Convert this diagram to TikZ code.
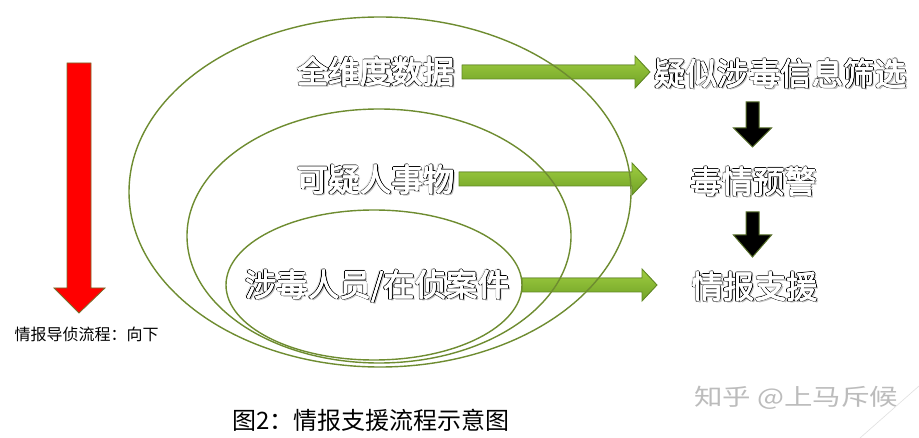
\documentclass[tikz,border=0pt]{standalone}
\usepackage{fontspec}
\setmainfont{Noto Sans CJK SC}
\definecolor{ringgreen}{RGB}{110,140,48}
\definecolor{arrowlight}{RGB}{160,205,65}
\definecolor{arrowdark}{RGB}{112,162,38}
\definecolor{arrowedge}{RGB}{98,138,36}
\definecolor{redfill}{RGB}{255,0,0}
\definecolor{rededge}{RGB}{120,110,45}
\definecolor{blackedge}{RGB}{85,110,40}
\definecolor{markgray}{RGB}{188,188,188}
\newcommand\fxlayer[4]{\rlap{\kern#1\raisebox{#2}{\color{#3}#4}}}
\newcommand\fxtext[1]{%
  \fxlayer{2pt}{-2pt}{black!25}{#1}%
  \fxlayer{-1.4pt}{1.4pt}{black!12}{#1}%
  \fxlayer{0.9pt}{-0.9pt}{black}{#1}%
  \fxlayer{-0.8pt}{0.8pt}{black}{#1}%
  \fxlayer{0.9pt}{0.8pt}{black}{#1}%
  \fxlayer{-0.8pt}{-0.9pt}{black}{#1}%
  \fxlayer{1pt}{0pt}{black}{#1}%
  \fxlayer{-0.9pt}{0pt}{black}{#1}%
  \fxlayer{0pt}{1pt}{black}{#1}%
  \fxlayer{0pt}{-1pt}{black}{#1}%
  \fxlayer{0.3pt}{0pt}{white}{#1}%
  \fxlayer{-0.3pt}{0pt}{white}{#1}%
  \fxlayer{0pt}{0.3pt}{white}{#1}%
  \fxlayer{0pt}{-0.3pt}{white}{#1}%
  {\color{white}#1}}
\newcommand\garrow[2]{%
  \fill[greenarrow] ([shift={(0,-7)}]#1) -- ([shift={(-15,-7)}]#2)
    -- ([shift={(-15,-16)}]#2) -- (#2) -- ([shift={(-15,16)}]#2)
    -- ([shift={(-15,7)}]#2) -- ([shift={(0,7)}]#1) -- cycle;}
\newcommand\barrow[3]{% start, head length, tip
  \fill[blackarrow] ([shift={(-6.5,0)}]#1) -- ([shift={(6.5,0)}]#1)
    -- ([shift={(6.5,-#2)}]#3) -- ([shift={(19,-#2)}]#3) -- (#3)
    -- ([shift={(-19,-#2)}]#3) -- ([shift={(-6.5,-#2)}]#3) -- cycle;}
\tikzset{
  bigtext/.style={inner sep=0pt, anchor=base, font=\fontsize{31.5}{34}\selectfont},
  ring/.style={draw=ringgreen, line width=1.4pt},
  greenarrow/.style={top color=arrowlight, bottom color=arrowdark, draw=arrowedge, line width=0.9pt, line join=miter},
  blackarrow/.style={fill=black, draw=blackedge, line width=1pt},
  redarrow/.style={fill=redfill, draw=rededge, line width=0.8pt},
}
\begin{document}
\begin{tikzpicture}[x=1pt,y=-1pt]
\useasboundingbox (0,0) rectangle (919,438);
\fill[white] (0,0) rectangle (919,438);

% red arrow
\coordinate (rtop) at (79,63);
\coordinate (rtip) at (79,313);
\fill[redarrow] ([shift={(-12,0)}]rtop) -- ([shift={(12,0)}]rtop) -- ([shift={(12,-25)}]rtip)
  -- ([shift={(26,-25)}]rtip) -- (rtip) -- ([shift={(-25,-25)}]rtip) -- ([shift={(-12,-25)}]rtip) -- cycle;
\node[inner sep=0pt, anchor=base west, font=\fontsize{16}{18}\selectfont] (flow) at (14.5,341) {情报导侦流程：向下};

% text nodes
\node[bigtext] (t1) at (376,84) {\fxtext{全维度数据}};
\node[bigtext] (t2) at (376,192) {\fxtext{可疑人事物}};
\node[bigtext] (t3) at (377.5,297) {\fxtext{涉毒人员/在侦案件}};
\node[bigtext] (s1) at (780.5,86) {\fxtext{疑似涉毒信息筛选}};
\node[bigtext] (s2) at (753.5,194) {\fxtext{毒情预警}};
\node[bigtext] (s3) at (755,299) {\fxtext{情报支援}};

% green block arrows
\coordinate (g1s) at (462,72);  \coordinate (g1e) at (650,72);
\coordinate (g2s) at (459,179); \coordinate (g2e) at (647,179);
\coordinate (g3s) at (522,285); \coordinate (g3e) at (657,285);
\garrow{g1s}{g1e}
\garrow{g2s}{g2e}
\garrow{g3s}{g3e}

% black arrows
\coordinate (b1s) at (752.5,102); \coordinate (b1e) at (752.5,147);
\coordinate (b2s) at (752.5,212); \coordinate (b2e) at (752.5,257);
\barrow{b1s}{19}{b1e}
\barrow{b2s}{22}{b2e}

% rings
\draw[ring] (380,192) ellipse [x radius=251, y radius=175];
\draw[ring] (379,236) ellipse [x radius=192, y radius=127];
\draw[ring] (374,285) ellipse [x radius=148, y radius=75];

% caption
\node[inner sep=0pt, anchor=base west, font=\fontsize{24}{26}\selectfont] (cap) at (232,429) {图2：情报支援流程示意图};

% watermark
\node[inner sep=0pt, anchor=base west, text=markgray, font=\fontsize{23}{26}\selectfont] (wm) at (694,406) {\resizebox{204pt}{\height}{知乎 @上马斥候}};
\coordinate (wl1) at (860,438); \coordinate (wl2) at (919,386);
\draw[black!12, line width=0.6pt] (wl1) -- (wl2);
\end{tikzpicture}
\end{document}
